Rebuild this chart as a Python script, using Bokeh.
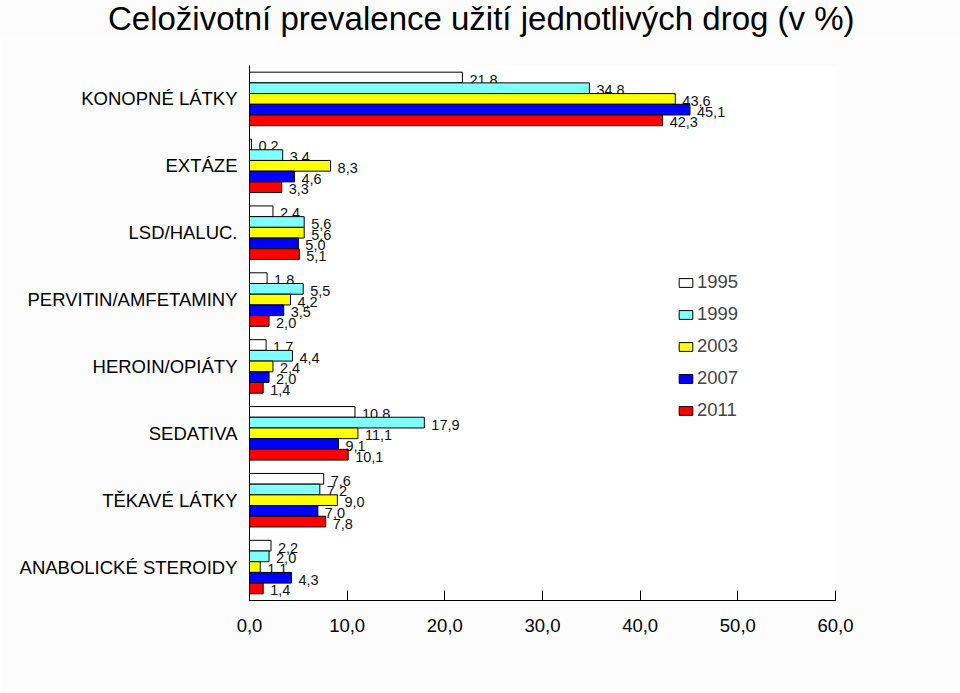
from bokeh.plotting import figure
from bokeh.models import FactorRange, ColumnDataSource, Div, Legend, LegendItem, FixedTicker, CustomJSTickFormatter
from bokeh.layouts import column
from bokeh.transform import dodge
from bokeh.core.properties import value
from bokeh.embed import file_html
from bokeh.resources import INLINE

FONT = "Liberation Sans"

title_text = "Celoživotní prevalence užití jednotlivých drog (v %)"
categories = ["KONOPNÉ LÁTKY", "EXTÁZE", "LSD/HALUC.", "PERVITIN/AMFETAMINY",
              "HEROIN/OPIÁTY", "SEDATIVA", "TĚKAVÉ LÁTKY", "ANABOLICKÉ STEROIDY"]
years = ["1995", "1999", "2003", "2007", "2011"]
colors = ["#ffffff", "#80ffff", "#ffff00", "#0000ff", "#ff0000"]
v1995 = [21.8, 0.2, 2.4, 1.8, 1.7, 10.8, 7.6, 2.2]
v1999 = [34.8, 3.4, 5.6, 5.5, 4.4, 17.9, 7.2, 2.0]
v2003 = [43.6, 8.3, 5.6, 4.2, 2.4, 11.1, 9.0, 1.1]
v2007 = [45.1, 4.6, 5.0, 3.5, 2.0, 9.1, 7.0, 4.3]
v2011 = [42.3, 3.3, 5.1, 2.0, 1.4, 10.1, 7.8, 1.4]
x_ticks = [0, 10, 20, 30, 40, 50, 60]

series = [v1995, v1999, v2003, v2007, v2011]

BG = "#fcfcfc"

p = figure(frame_width=586, frame_height=535, output_backend="svg", toolbar_location=None,
           y_range=FactorRange(factors=list(reversed(categories)), range_padding=0),
           x_range=(0, 60), min_border_left=249, min_border_right=125,
           min_border_top=27, min_border_bottom=93,
           background_fill_color="#ffffff", border_fill_color=BG)
p.outline_line_color = None
p.xgrid.visible = False
p.ygrid.visible = False

bh = 0.16
items = []
for i, (yr, col, vals) in enumerate(zip(years, colors, series)):
    src = ColumnDataSource(dict(cat=categories, v=vals,
                                lbl=[f"{x:.1f}".replace(".", ",") for x in vals]))
    off = (2 - i) * bh
    r = p.hbar(y=dodge("cat", off, range=p.y_range), right="v", left=0, height=bh,
               source=src, fill_color=col, line_color="black", line_width=1)
    items.append(LegendItem(label=yr, renderers=[r]))
    p.text(x="v", y=dodge("cat", off - 0.03, range=p.y_range), text="lbl", source=src,
           x_offset=7, text_baseline="middle", text_align="left",
           text_font=value(FONT), text_font_size="14.5px", text_color="#111111")

legend = Legend(items=items, location=(428, 179), label_text_font=FONT,
                label_text_font_size="18.5px", glyph_width=17, glyph_height=11,
                spacing=10, label_standoff=3, background_fill_alpha=0,
                border_line_color=None, padding=0, margin=0, label_height=22)
p.add_layout(legend)

p.xaxis.ticker = FixedTicker(ticks=x_ticks)
p.xaxis.formatter = CustomJSTickFormatter(code="return tick.toFixed(1).replace('.', ',');")
p.xaxis.major_tick_in = 10
p.xaxis.major_tick_out = 0
p.xaxis.minor_tick_line_color = None
p.xaxis.axis_line_color = "black"
p.xaxis.major_tick_line_color = "black"
p.xaxis.major_label_text_font = FONT
p.xaxis.major_label_text_font_size = "18.5px"
p.xaxis.major_label_text_color = "black"
p.xaxis.major_label_standoff = 18

p.yaxis.major_tick_line_color = None
p.yaxis.minor_tick_line_color = None
p.yaxis.axis_line_color = "black"
p.yaxis.major_label_text_font = FONT
p.yaxis.major_label_text_font_size = "18.5px"
p.yaxis.major_label_text_color = "black"
p.yaxis.major_label_standoff = 6

title = Div(text=title_text, width=960, height=38, margin=0,
            styles={"font-family": FONT, "font-size": "33px", "line-height": "38px",
                    "color": "black", "padding-left": "108px", "box-sizing": "border-box",
                    "white-space": "nowrap", "background-color": BG})

layout = column(title, p, spacing=0)

open("out.html", "w").write(file_html(layout, INLINE))
